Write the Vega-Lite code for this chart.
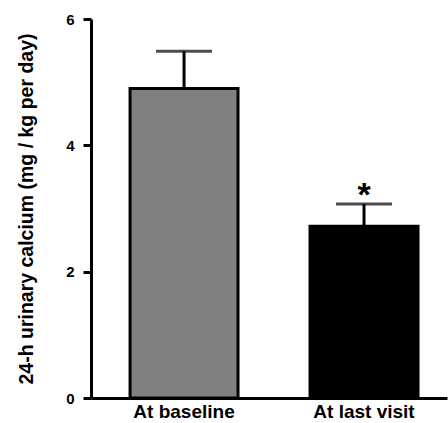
{
  "$schema": "https://vega.github.io/schema/vega-lite/v6.json",
  "width": 356,
  "height": 379,
  "autosize": {"type": "none"},
  "padding": {"left": 91, "top": 19, "right": 1, "bottom": 25},
  "background": "white",
  "config": {
    "view": {"stroke": null},
    "font": "Liberation Sans",
    "axis": {"labelFont": "Liberation Sans", "titleFont": "Liberation Sans", "labelColor": "black", "titleColor": "black", "domainColor": "black", "tickColor": "black", "grid": false},
    "axisX": {
      "labelAngle": 0,
      "ticks": false,
      "tickSize": 0,
      "labelPadding": 4,
      "labelFontSize": 19,
      "labelFontWeight": "bold",
      "domainWidth": 3
    }
  },
  "data": {
    "values": [
      {"visit": "At baseline", "mean": 4.9, "hi": 5.49, "sig": ""},
      {"visit": "At last visit", "mean": 2.72, "hi": 3.07, "sig": "*"}
    ]
  },
  "encoding": {
    "x": {
      "field": "visit",
      "type": "nominal",
      "sort": null,
      "scale": {"paddingInner": 0.4, "paddingOuter": 0.189, "align": 0.574},
      "axis": {"title": null}
    }
  },
  "layer": [
    {
      "mark": {"type": "bar", "stroke": "black", "strokeWidth": 3},
      "encoding": {
        "y": {
          "field": "mean",
          "type": "quantitative",
          "scale": {"domain": [0, 6], "nice": false},
          "axis": {
            "title": "24-h urinary calcium (mg / kg per day)",
            "values": [0, 2, 4, 6],
            "format": "d",
            "tickSize": 8,
            "tickWidth": 3,
            "domainWidth": 3,
            "labelFontSize": 15,
            "labelFontWeight": "bold",
            "labelPadding": 9,
            "titleFontSize": 19.5,
            "titleFontWeight": "bold",
            "titleAngle": -90,
            "titleX": -65,
            "titleY": 189.5,
            "titleBaseline": "middle",
            "titleAlign": "center"
          }
        },
        "fill": {
          "field": "visit",
          "type": "nominal",
          "scale": {"domain": ["At baseline", "At last visit"], "range": ["#808080", "#000000"]},
          "legend": null
        }
      }
    },
    {
      "mark": {"type": "rule", "strokeWidth": 3, "color": "black"},
      "encoding": {
        "y": {"field": "mean", "type": "quantitative"},
        "y2": {"field": "hi"}
      }
    },
    {
      "mark": {"type": "tick", "orient": "horizontal", "size": 56, "thickness": 3, "color": "black"},
      "encoding": {
        "y": {"field": "hi", "type": "quantitative"}
      }
    },
    {
      "mark": {"type": "text", "fontSize": 34, "fontWeight": "bold", "baseline": "alphabetic", "dy": 2, "color": "black"},
      "encoding": {
        "y": {"field": "hi", "type": "quantitative"},
        "text": {"field": "sig"}
      }
    }
  ]
}
